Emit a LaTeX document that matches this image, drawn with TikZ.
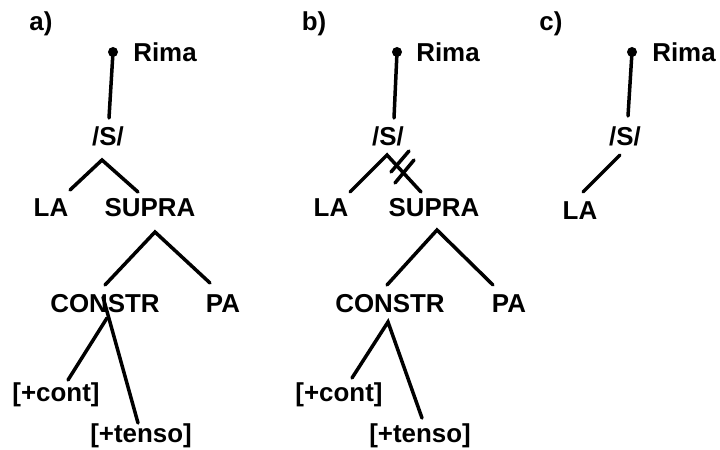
\documentclass[tikz,border=0pt]{standalone}
\usepackage{fontspec}
\setmainfont{Liberation Sans}
\begin{document}
\begin{tikzpicture}[x=1bp,y=-1bp,
  lbl/.style={font=\bfseries\fontsize{26}{26}\selectfont, inner sep=0pt, anchor=base},
  branch/.style={line width=3.5bp, line cap=round},
  dotnode/.style={circle, fill, inner sep=0pt, minimum size=10bp}]
\useasboundingbox (0,0) rectangle (720,450);

% ---------------- panel a
\node[lbl] (pa) at (41,31) {a)};
\node[dotnode] (da) at (113,52) {};
\node[lbl] (ra) at (165,62) {Rima};
\node[lbl] (sa) at (108,146) {/S/};
\coordinate (sta) at (109,118);
\draw[branch] (da.center) -- (sta);
\node[lbl] (laa) at (51,217) {LA};
\node[lbl] (supa) at (150,217) {SUPRA};
\coordinate (apsa) at (102,160);
\coordinate (laat) at (70,190);
\coordinate (supat) at (138,192);
\draw[branch] (laat) -- (apsa) -- (supat);
\coordinate (apua) at (155,232);
\coordinate (cota) at (105,285);
\coordinate (pata) at (210,283);
\draw[branch] (cota) -- (apua) -- (pata);
\node[lbl] (cona) at (105,313) {CONSTR};
\node[lbl] (paa) at (223,313) {PA};
\coordinate (ca1) at (107,318);
\coordinate (conta) at (68,380);
\coordinate (ca2) at (103,297);
\coordinate (tensa) at (138,423);
\draw[branch] (ca1) -- (conta);
\draw[branch] (ca2) -- (tensa);
\node[lbl] (cnta) at (56,401) {[+cont]};
\node[lbl] (tnsa) at (141,442) {[+tenso]};

% ---------------- panel b
\node[lbl] (pb) at (314,31) {b)};
\node[dotnode] (db) at (397,52) {};
\node[lbl] (rb) at (448,62) {Rima};
\node[lbl] (sb) at (388,146) {/S/};
\coordinate (stb) at (394,118);
\draw[branch] (db.center) -- (stb);
\node[lbl] (lab) at (331,217) {LA};
\node[lbl] (supb) at (434,217) {SUPRA};
\coordinate (apsb) at (387,155);
\coordinate (labt) at (350,192);
\coordinate (supbt) at (421,192);
\draw[branch] (labt) -- (apsb) -- (supbt);
\coordinate (x1a) at (391,172);
\coordinate (x1b) at (409,151);
\coordinate (x2a) at (395,183);
\coordinate (x2b) at (414,160);
\draw[branch] (x1a) -- (x1b);
\draw[branch] (x2a) -- (x2b);
\coordinate (apub) at (437,230);
\coordinate (cotb) at (387,285);
\coordinate (patb) at (493,285);
\draw[branch] (cotb) -- (apub) -- (patb);
\node[lbl] (conb) at (390,313) {CONSTR};
\node[lbl] (pab) at (509,313) {PA};
\coordinate (apcb) at (388,322);
\coordinate (contb) at (352,378);
\coordinate (tensb) at (422,418);
\draw[branch] (contb) -- (apcb) -- (tensb);
\node[lbl] (cntb) at (339,401) {[+cont]};
\node[lbl] (tnsb) at (420,442) {[+tenso]};

% ---------------- panel c
\node[lbl] (pc) at (551,31) {c)};
\node[dotnode] (dc) at (632,52) {};
\node[lbl] (rc) at (684,62) {Rima};
\node[lbl] (sc) at (625,146) {/S/};
\coordinate (stc) at (628,116);
\draw[branch] (dc.center) -- (stc);
\node[lbl] (lac) at (580,220) {LA};
\coordinate (apsc) at (620,155);
\coordinate (lact) at (583,192);
\draw[branch] (apsc) -- (lact);
\end{tikzpicture}
\end{document}
